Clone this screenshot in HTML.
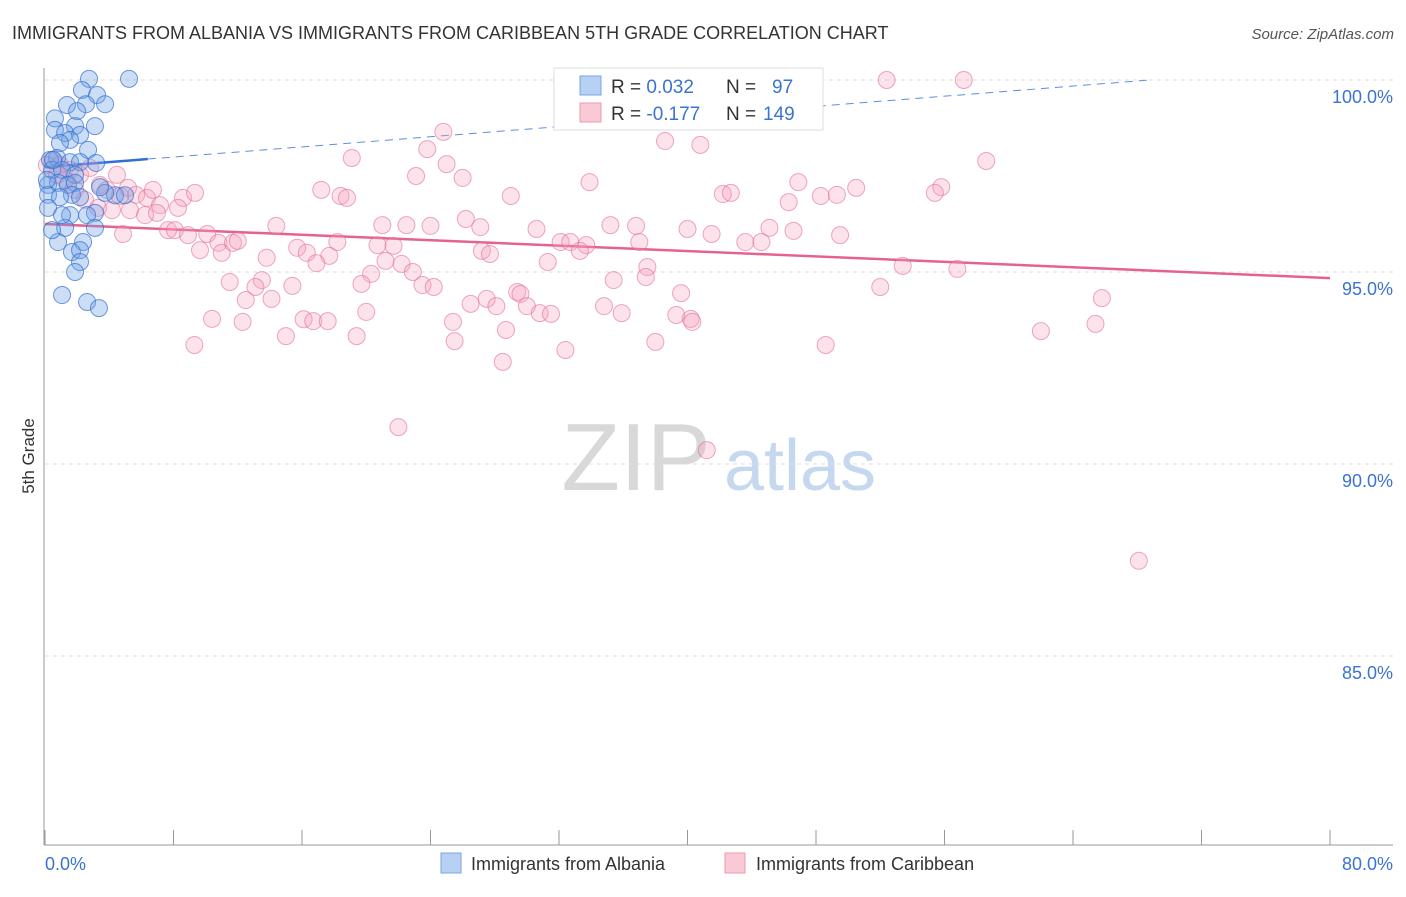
<!DOCTYPE html>
<html><head><meta charset="utf-8"><style>
body{margin:0;background:#fff;font-family:"Liberation Sans",sans-serif}
svg text{font-family:"Liberation Sans",sans-serif}
</style></head><body>
<svg id="chart" width="1406" height="892" xmlns="http://www.w3.org/2000/svg">
<text x="12" y="39" font-size="18" fill="#333">IMMIGRANTS FROM ALBANIA VS IMMIGRANTS FROM CARIBBEAN 5TH GRADE CORRELATION CHART</text>
<text x="1394" y="39" font-size="15" fill="#555" font-style="italic" text-anchor="end">Source: ZipAtlas.com</text>
<g>
<text x="636" y="490" font-size="96" fill="#d8d8d8" font-family="Liberation Serif" text-anchor="middle">ZIP</text>
<text x="800" y="490" font-size="72" fill="#c5d8f0" text-anchor="middle">atlas</text>
</g>
<g id="grid"></g><g id="axes"></g><g id="trends"></g><g id="points"></g>
<text transform="translate(34,456) rotate(-90)" font-size="17" fill="#333" text-anchor="middle">5th Grade</text>
<text x="45" y="870" font-size="18" fill="#3b73d1">0.0%</text>
<text x="1393" y="870" font-size="18" fill="#3b73d1" text-anchor="end">80.0%</text>
<g>
<rect x="554" y="68" width="269" height="62" fill="#fff" stroke="#ddd"/>
<rect x="580" y="76" width="21" height="19" fill="#b7d1f4" stroke="#7aa5e0"/>
<rect x="580" y="103" width="21" height="19" fill="#f9c9d6" stroke="#eb9ab3"/>
<text x="611" y="93" font-size="19" fill="#333">R = <tspan fill="#3b73d1">0.032</tspan><tspan x="726">N = </tspan><tspan x="772" fill="#3b73d1">97</tspan></text>
<text x="611" y="120" font-size="19" fill="#333">R = <tspan fill="#3b73d1">-0.177</tspan><tspan x="726">N = </tspan><tspan x="763" fill="#3b73d1">149</tspan></text>
</g>
<g>
<rect x="441" y="853" width="20" height="20" fill="#b7d1f4" stroke="#7aa5e0"/>
<text x="471" y="870" font-size="18" fill="#333">Immigrants from Albania</text>
<rect x="725" y="853" width="20" height="20" fill="#f9c9d6" stroke="#eb9ab3"/>
<text x="756" y="870" font-size="18" fill="#333">Immigrants from Caribbean</text>
</g>
</svg>
<script>
const yTicks=[100,95,90,85];
const yTickLabels=["100.0%","95.0%","90.0%","85.0%"];
const xTicks=[0,8,16,24,32,40,48,56,64,72,80];
const albaniaX=[2.74,5.23,2.3,3.24,1.37,2.55,3.74,2.0,1.87,3.11,0.62,0.62,1.25,2.18,1.56,0.93,2.68,0.75,1.56,3.18,2.18,0.31,0.44,1.06,1.87,0.19,0.81,1.43,1.87,1.68,0.19,0.93,2.18,0.19,1.56,3.11,2.62,1.25,3.11,0.81,2.37,1.68,2.18,2.18,1.87,1.06,2.62,3.36,4.36,4.98,3.74,1.06,0.44,3.43,0.5,0.12];
const albaniaY=[100.03,100.03,99.74,99.61,99.35,99.37,99.37,99.19,98.8,98.8,99.0,98.7,98.62,98.57,98.44,98.36,98.18,97.97,97.86,97.84,97.86,97.92,97.66,97.66,97.53,97.27,97.32,97.27,97.32,97.01,97.01,96.95,96.95,96.67,96.48,96.54,96.48,96.15,96.15,95.78,95.78,95.52,95.57,95.26,95.0,94.4,94.22,94.06,97.0,97.0,97.06,96.48,96.09,97.21,97.92,97.4];
const caribX=[52.4,57.2,24.8,38.6,40.8,23.8,19.1,58.6,25.0,23.1,26.0,33.9,46.9,50.5,55.8,55.4,17.2,18.4,18.8,29.0,42.2,42.7,48.3,49.3,46.3,14.4,21.0,22.5,24.0,26.2,27.1,30.6,35.2,36.8,40.0,41.5,45.1,46.6,49.5,18.2,20.7,21.7,32.1,32.7,33.7,37.0,43.6,44.6,27.2,27.7,15.7,16.3,13.8,17.7,16.9,21.2,22.2,31.3,33.3,22.9,20.3,23.5,24.2,37.5,37.4,35.4,13.5,53.4,56.8,52.0,39.6,29.4,29.6,27.5,11.5,13.1,15.4,19.7,26.5,28.1,30.0,12.5,14.1,34.8,35.9,30.8,31.5,65.8,16.1,16.7,17.6,20.0,25.4,28.7,39.3,40.2,40.3,10.4,12.3,62.0,65.4,15.0,19.4,25.5,38.0,48.6,32.4,9.3,28.5,22.0,41.2,68.1,0.5,0.93,1.56,2.18,2.8,3.42,3.86,4.48,5.17,5.67,6.35,6.72,7.16,4.67,5.29,6.23,6.97,7.66,8.09,8.59,9.34,8.28,8.9,9.65,10.1,10.8,11.0,11.7,12.0,4.86,3.3,4.17,1.87,2.49,1.25,0.12,0.75];
const caribY=[100.0,100.0,98.65,98.41,98.31,98.2,97.97,97.89,97.81,97.5,97.45,97.34,97.34,97.19,97.21,97.06,97.14,96.98,96.93,96.98,97.03,97.06,96.98,97.01,96.82,96.2,96.22,96.22,96.2,96.38,96.17,96.12,96.22,96.2,96.12,95.99,96.15,96.07,95.96,95.78,95.7,95.68,95.78,95.78,95.7,95.78,95.78,95.78,95.55,95.47,95.63,95.5,95.37,95.42,95.23,95.29,95.21,95.26,95.55,95.0,94.95,94.66,94.61,95.13,94.87,94.79,94.79,95.16,95.08,94.61,94.45,94.48,94.43,94.3,94.74,94.61,94.64,94.69,94.17,94.11,94.11,94.27,94.3,94.11,93.93,93.93,93.91,94.32,93.77,93.72,93.72,93.96,93.7,93.49,93.88,93.78,93.7,93.78,93.7,93.46,93.65,93.33,93.33,93.2,93.18,93.1,92.97,93.1,92.66,90.96,90.36,87.48,97.92,97.79,97.66,97.53,97.71,97.27,97.14,97.53,97.19,97.01,96.93,97.14,96.74,96.98,96.61,96.48,96.54,96.09,96.09,96.93,97.06,96.67,95.96,95.57,95.99,95.76,95.5,95.76,95.81,95.99,96.67,96.61,97.14,96.88,97.4,97.79,97.53];
const albaniaTrend=[97.73,0.033]; // intercept, slope
const caribTrend=[96.25,-0.0176];
const albaniaSolidEnd=6.4, albaniaDashEnd=68.8;

const X=v=>45+v*(1285/80);
const Y=v=>80+(100-v)*38.4;
const NS="http://www.w3.org/2000/svg";
function mk(tag,attrs,parent){const e=document.createElementNS(NS,tag);for(const k in attrs)e.setAttribute(k,attrs[k]);parent.appendChild(e);return e;}
const grid=document.getElementById('grid'),axes=document.getElementById('axes'),trends=document.getElementById('trends'),pts=document.getElementById('points');
yTicks.forEach((t,i)=>{
  const l=mk('line',{x1:45,x2:1393,y1:Y(t),y2:Y(t),stroke:'#ddd','stroke-dasharray':'4,4'},grid);
  
  
  const tx=mk('text',{x:1393,y:Y(t)+23,'font-size':18,fill:'#3b73d1','text-anchor':'end'},grid);
  tx.textContent=yTickLabels[i];
  
  
});
const ya=mk('line',{x1:44,x2:44,y1:68,y2:845,stroke:'#999'},axes);


const xa=mk('line',{x1:44,x2:1393,y1:845,y2:845,stroke:'#999'},axes);


xTicks.forEach(t=>{
  const l=mk('line',{x1:X(t),x2:X(t),y1:830,y2:845,stroke:'#999'},axes);
  
  
});
function drawPts(xs,ys,fill,stroke,name){
  xs.forEach((x,i)=>{
    const c=mk('circle',{cx:X(x),cy:Y(ys[i]),r:8.5,fill:fill,stroke:stroke,'stroke-width':1},pts);
    
    
  });
}
drawPts(caribX,caribY,'rgba(244,160,188,0.3)','rgba(226,110,150,0.6)','caribbean-point');
drawPts(albaniaX,albaniaY,'rgba(110,160,230,0.35)','rgba(50,110,210,0.7)','albania-point');
const f=(tr,x)=>tr[0]+tr[1]*x;
const t1=mk('line',{x1:X(0),y1:Y(f(albaniaTrend,0)),x2:X(albaniaSolidEnd),y2:Y(f(albaniaTrend,albaniaSolidEnd)),stroke:'#2f6fd6','stroke-width':2.5},trends);


const t2=mk('line',{x1:X(albaniaSolidEnd),y1:Y(f(albaniaTrend,albaniaSolidEnd)),x2:X(albaniaDashEnd),y2:Y(f(albaniaTrend,albaniaDashEnd)),stroke:'#5b8fe0','stroke-width':1,'stroke-dasharray':'8,6'},trends);


const t3=mk('line',{x1:X(0),y1:Y(f(caribTrend,0)),x2:X(80),y2:Y(f(caribTrend,80)),stroke:'#e5628e','stroke-width':2.5},trends);


</script>
</body></html>
